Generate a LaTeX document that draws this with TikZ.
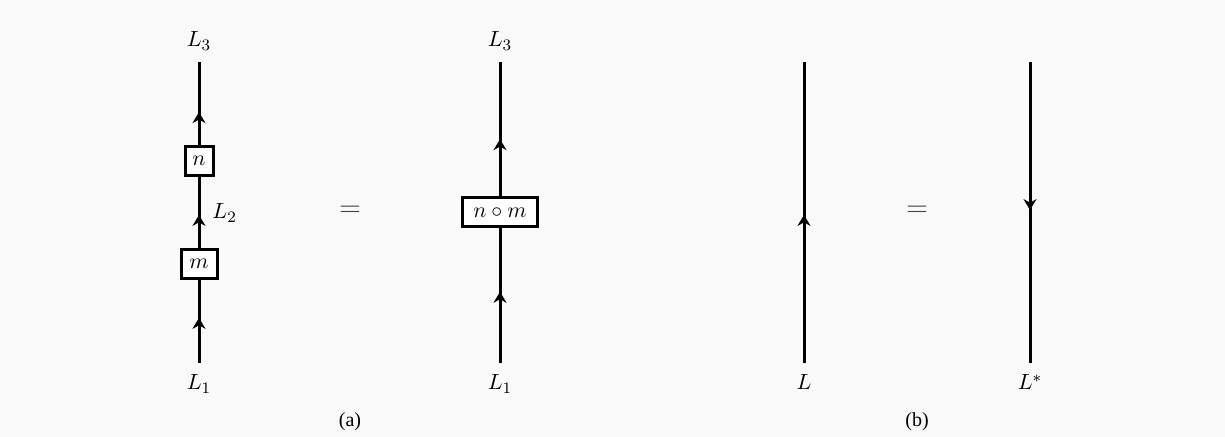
\documentclass[tikz,border=0pt]{standalone}
\usepackage{fontspec}
\newfontfamily\capfont{Liberation Serif}
\usetikzlibrary{arrows.meta,decorations.markings}
\tikzset{
  wire/.style={line width=1.5pt},
  arr at/.style={postaction={decorate},decoration={markings,
    mark=at position #1 with {\arrow{Stealth[length=5.5pt,width=6.5pt,inset=1.8pt]}}}},
  mapbox/.style={draw,line width=1.5pt,fill=white,minimum height=14.5pt,inner sep=0pt,font=\fontsize{11}{13}\selectfont},
  lbl/.style={inner sep=0pt,anchor=base,font=\fontsize{11}{13}\selectfont},
  eqsign/.style={font=\Large,text=black!75},
  subcap/.style={font=\capfont,inner sep=0pt,anchor=base}
}
\begin{document}
\begin{tikzpicture}[x=0.5pt,y=-0.5pt]
\fill[black!2.5] (0,0) rectangle (1225,437);
\useasboundingbox (0,0) rectangle (1225,437);
% (a) left
\coordinate (a0) at (199,363);
\coordinate (a1) at (199,62);
\node[mapbox,minimum width=18pt] (m) at (199,264) {$m$};
\node[mapbox,minimum width=14pt] (n) at (199,161) {$n$};
\draw[wire,arr at=0.544] (a0) -- (m.south);
\draw[wire,arr at=0.466] (m.north) -- (n.south);
\draw[wire,arr at=0.396] (n.north) -- (a1);
\node[lbl] (la1) at (199,390) {$L_1$};
\node[lbl] (la3) at (199,47) {$L_3$};
\node[lbl,anchor=base west] (la2) at (212,219) {$L_2$};
\node[eqsign] (eq1) at (350,211) {$=$};
% (a) middle
\coordinate (b0) at (500,363);
\coordinate (b1) at (500,62);
\node[mapbox,minimum width=37.2pt] (nm) at (500,212.4) {$n\circ m$};
\draw[wire,arr at=0.529] (b0) -- (nm.south);
\draw[wire,arr at=0.426] (nm.north) -- (b1);
\node[lbl] (lb1) at (500,390) {$L_1$};
\node[lbl] (lb3) at (500,47) {$L_3$};
% (b)
\coordinate (c0) at (804,363);
\coordinate (c1) at (804,62);
\draw[wire,arr at=0.492] (c0) -- (c1);
\node[lbl] (lc) at (804,390) {$L$};
\node[eqsign] (eq2) at (917,211) {$=$};
\coordinate (d0) at (1030,62);
\coordinate (d1) at (1030,363);
\draw[wire,arr at=0.492] (d0) -- (d1);
\node[lbl] (ld) at (1030,390) {$L^*$};
% captions
\node[subcap] (capa) at (350,427) {(a)};
\node[subcap] (capb) at (917,427) {(b)};
\end{tikzpicture}
\end{document}
